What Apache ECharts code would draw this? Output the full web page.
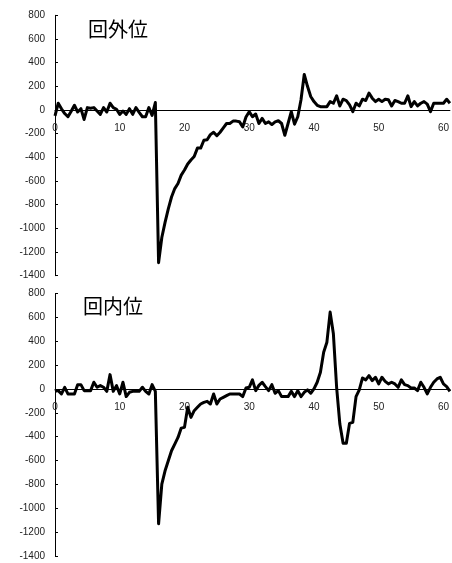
<!DOCTYPE html>
<html>
<head>
<meta charset="utf-8">
<script src="https://cdn.jsdelivr.net/npm/echarts@6/dist/echarts.min.js"></script>
<style>
html,body{margin:0;padding:0;background:#fff;}
#chart{width:452px;height:563px;}
</style>
</head>
<body>
<div id="chart"></div>
<script>
// Chart titles
const titles = ['回外位', '回内位'];
// Time step between samples and tick labels
const timeStep = 0.5;
const xTicks = [0, 10, 20, 30, 40, 50, 60];
const yTicks = [800, 600, 400, 200, 0, -200, -400, -600, -800, -1000, -1200, -1400];

// 回外位 (supination) values, one per 0.5 time unit from 0 to 61
const supination = [
  -50, 57, 10, -30, -57, -10, 40, -17, 11, -80,
  20, 15, 20, -9, -37, 20, -17, 57, 20, 6,
  -37, -9, -37, 11, -37, 20, -20, -57, -57, 20,
  -46, 63, -1290, -1077, -949, -835, -735, -664, -621, -550,
  -507, -456, -422, -393, -322, -322, -256, -251, -208, -188,
  -217, -188, -151, -114, -114, -94, -94, -100, -143, -60,
  -14, -57, -34, -114, -71, -114, -100, -123, -100, -91,
  -114, -214, -114, -14, -120, -57, 86, 300, 200, 114,
  71, 40, 28, 28, 28, 71, 57, 120, 34, 91,
  80, 43, -14, 57, 34, 91, 80, 143, 100, 71,
  91, 71, 91, 86, 34, 80, 71, 57, 57, 120,
  28, 71, 34, 57, 71, 50, -14, 57, 57, 57,
  57, 91, 57
];

// 回内位 (pronation) values, one per 0.5 time unit from 0 to 61
const pronation = [
  -20, -14, -42, 14, -42, -42, -42, 36, 36, -14,
  -14, -14, 56, 14, 28, 14, -20, 120, -20, 28,
  -42, 56, -64, -28, -20, -20, -20, 14, -20, -42,
  36, -20, -1130, -798, -686, -602, -518, -462, -406, -328,
  -322, -154, -238, -182, -154, -126, -112, -104, -126, -42,
  -126, -84, -70, -56, -42, -42, -42, -42, -64, 8,
  14, 76, -14, 30, 56, 20, -14, 36, -36, -14,
  -64, -64, -64, -20, -64, -14, -64, -28, -8, -36,
  0, 56, 140, 308, 392, 644, 462, 14, -294, -456,
  -456, -288, -280, -64, -8, 92, 76, 112, 70, 98,
  42, 98, 64, 42, 56, 42, 14, 76, 36, 28,
  8, 8, -14, 56, 14, -42, 14, 56, 84, 98,
  42, 20, -20
];

const toPairs = arr => arr.map((v, i) => [i * timeStep, v]);

const font = '"Liberation Sans", Arial, sans-serif';
const yMin = yTicks[yTicks.length - 1], yMax = yTicks[0];
const grids = [
  { left: 55, right: 0, top: 15.3, height: 260.4 },
  { left: 55, right: 0, top: 293.5, height: 262.5 }
];
// distance from the bottom of a grid up to its zero line
const zeroOffset = g => -g.height * (0 - yMin) / (yMax - yMin);

function xAxis(idx) {
  return {
    type: 'value', gridIndex: idx, min: 0, max: 61, interval: 10,
    position: 'bottom', offset: zeroOffset(grids[idx]),
    splitLine: { show: false },
    axisTick: { show: false },
    axisLine: { onZero: false, lineStyle: { color: '#000', width: 1 } },
    axisLabel: {
      showMaxLabel: false, margin: 13, fontSize: 10, color: '#222', fontFamily: font,
      formatter: v => (xTicks.indexOf(v) >= 0 ? String(v) : '')
    }
  };
}
function yAxis(idx) {
  return {
    type: 'value', gridIndex: idx, min: yMin, max: yMax, interval: 200,
    splitLine: { show: false },
    axisLine: { show: true, onZero: false, lineStyle: { color: '#000', width: 1 } },
    axisTick: { show: true, inside: true, length: 3, lineStyle: { color: '#000' } },
    axisLabel: { margin: 10, fontSize: 10, color: '#222', fontFamily: font,
      formatter: v => String(v) }
  };
}

const chart = echarts.init(document.getElementById('chart'), null, { renderer: 'canvas' });
chart.setOption({
  animation: false,
  backgroundColor: '#fff',
  title: [
    { text: titles[0], left: 88, top: 19, padding: 0,
      textStyle: { fontSize: 20, fontWeight: 'normal', color: '#000', fontFamily: '"Noto Sans CJK JP", sans-serif' } },
    { text: titles[1], left: 83, top: 296, padding: 0,
      textStyle: { fontSize: 20, fontWeight: 'normal', color: '#000', fontFamily: '"Noto Sans CJK JP", sans-serif' } }
  ],
  grid: grids,
  xAxis: [xAxis(0), xAxis(1)],
  yAxis: [yAxis(0), yAxis(1)],
  series: [
    { type: 'line', xAxisIndex: 0, yAxisIndex: 0, data: toPairs(supination),
      showSymbol: false, lineStyle: { color: '#000', width: 3, join: 'round' }, z: 3 },
    { type: 'line', xAxisIndex: 1, yAxisIndex: 1, data: toPairs(pronation),
      showSymbol: false, lineStyle: { color: '#000', width: 3, join: 'round' }, z: 3 }
  ]
});
</script>
</body>
</html>
